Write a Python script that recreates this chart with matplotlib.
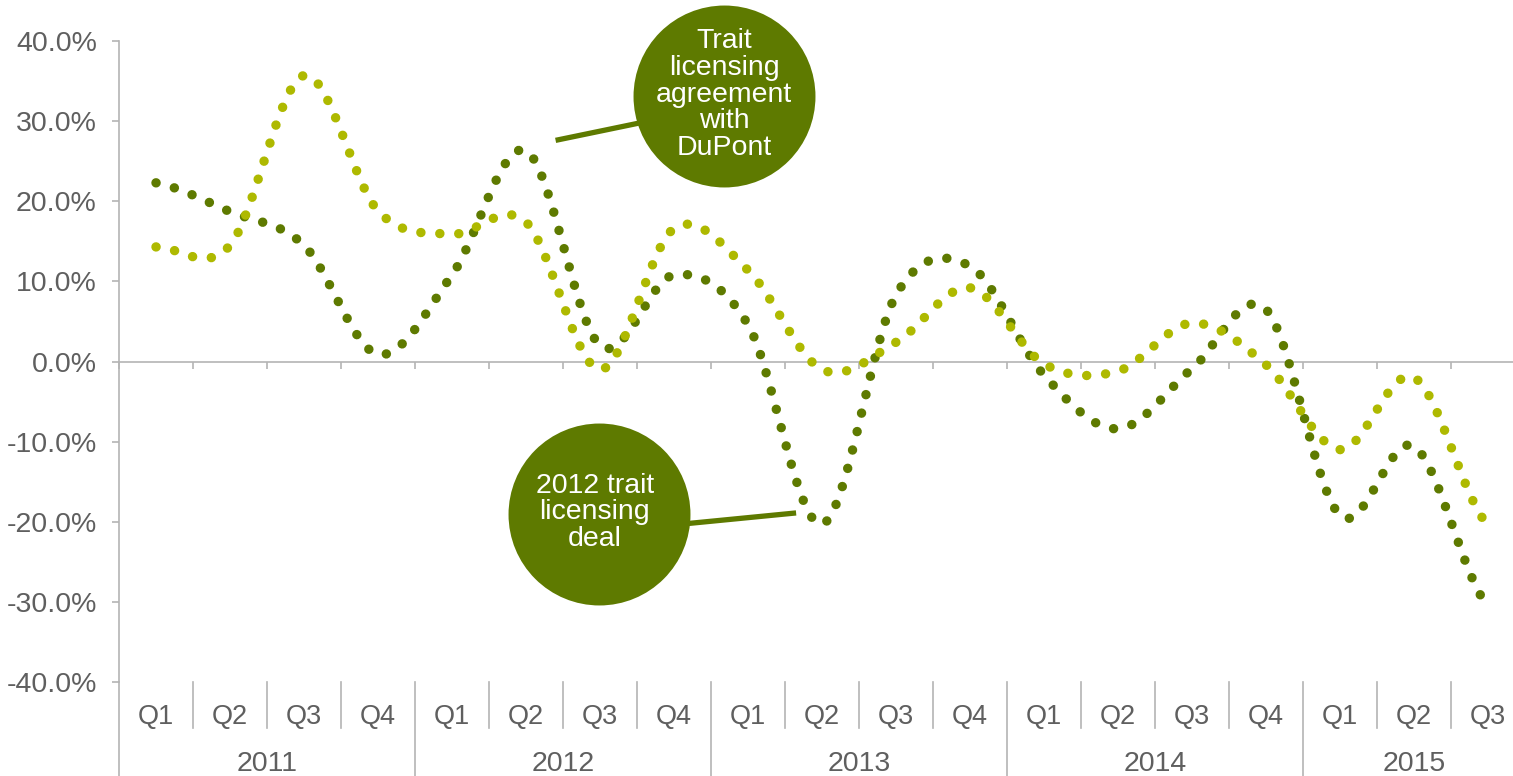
import numpy as np
import matplotlib
matplotlib.use('Agg')
import matplotlib.pyplot as plt
from matplotlib.transforms import blended_transform_factory

plt.rcParams['font.family'] = ['Liberation Sans', 'DejaVu Sans']

years = ['2011', '2012', '2013', '2014', '2015']
quarters = ['Q1', 'Q2', 'Q3', 'Q4'] * 4 + ['Q1', 'Q2', 'Q3']
dark = [22.3, 18.7, 14.5, 0.9, 10.8, 26.3, 2.0, 10.8, 4.6, -20.3,
        8.3, 11.9, -1.7, -8.4, -0.9, 6.5, -19.2, -10.6, -30.5]
light = [14.3, 14.5, 35.7, 18.8, 15.9, 17.4, -1.0, 16.6, 11.4, -1.0,
         2.4, 9.2, -0.3, -1.2, 4.8, -0.4, -11.0, -2.0, -20.4]
yticks = [-40, -30, -20, -10, 0, 10, 20, 30, 40]

c_dark = '#5e7a00'
c_light = '#aeb900'
c_text = '#5f5f5f'
c_axis = '#b4b4b4'


def smooth(y, n=40):
    # smoothed line like excel (catmull-rom)
    y = np.asarray(y, float)
    p = np.concatenate([[y[0]], y, [y[-1]]])
    t = np.linspace(0, 1, n, endpoint=False)
    h00 = 2 * t**3 - 3 * t**2 + 1
    h10 = t**3 - 2 * t**2 + t
    h01 = -2 * t**3 + 3 * t**2
    h11 = t**3 - t**2
    xs, ys = [], []
    for i in range(len(y) - 1):
        m1 = (p[i + 2] - p[i]) / 2
        m2 = (p[i + 3] - p[i + 1]) / 2
        xs.append(i + t)
        ys.append(h00 * p[i + 1] + h10 * m1 + h01 * p[i + 2] + h11 * m2)
    xs.append([len(y) - 1])
    ys.append([y[-1]])
    return np.concatenate(xs), np.concatenate(ys)


fig = plt.figure(figsize=(15.13, 7.76), dpi=100)
ax = fig.add_axes([119 / 1513, 94 / 776, 1406 / 1513, 641 / 776])

for vals, col in [(dark, c_dark), (light, c_light)]:
    sx, sy = smooth(vals)
    ax.plot(sx, sy, color=col, lw=6.8, linestyle=(0, (0.01, 2.0)),
            dash_capstyle='round', zorder=3)

ax.set_xlim(-0.5, 18.5)
ax.set_ylim(-40, 40)

for s in ['top', 'right']:
    ax.spines[s].set_visible(False)
ax.spines['bottom'].set_position(('data', 0))
ax.spines['bottom'].set_color(c_axis)
ax.spines['left'].set_color(c_axis)
ax.spines['bottom'].set_linewidth(1.2)
ax.spines['left'].set_linewidth(1.2)

ax.set_yticks(yticks)
ax.set_yticklabels([f'{v:.1f}%' for v in yticks])
ax.tick_params(axis='y', colors=c_axis, labelcolor=c_text, labelsize=20.5,
               length=5, width=1.2, pad=11)
ax.set_xticks(np.arange(-0.5, 19, 1))
ax.tick_params(axis='x', colors=c_axis, length=5, width=1.2, labelbottom=False)

# category axis at the bottom
tr = blended_transform_factory(ax.transData, ax.transAxes)
for i, q in enumerate(quarters):
    ax.text(i, -0.054, q, transform=tr, ha='center', va='center',
            fontsize=19.5, color=c_text)
    if i > 0:
        top = -0.155 if i % 4 == 0 else -0.072
        ax.plot([i - 0.5, i - 0.5], [0, top], transform=tr, color=c_axis,
                lw=1.2, clip_on=False)
ax.plot([-0.5, -0.5], [0, -0.155], transform=tr, color=c_axis, lw=1.2,
        clip_on=False)
for k, yr in enumerate(years):
    first = 4 * k
    last = min(4 * k + 3, len(quarters) - 1)
    ax.text((first + last) / 2, -0.128, yr, transform=tr, ha='center',
            va='center', fontsize=20.5, color=c_text)

# callouts
ax.plot([5.40, 6.55], [27.6, 29.8], color=c_dark, lw=3.8,
        solid_capstyle='butt', zorder=4)
ax.scatter([7.68], [33.1], s=131**2, color=c_dark, zorder=5, linewidths=0,
           clip_on=False)
ax.text(7.68, 33.3, 'Trait\nlicensing\nagreement\nwith\nDuPont',
        ha='center', va='center', fontsize=20.5, color='white',
        linespacing=1.03, zorder=6, clip_on=False)

ax.plot([7.1, 8.65], [-20.3, -18.9], color=c_dark, lw=3.8,
        solid_capstyle='butt', zorder=4)
ax.scatter([5.99], [-19.0], s=131**2, color=c_dark, zorder=5, linewidths=0,
           clip_on=False)
ax.text(5.93, -18.8, '2012 trait\nlicensing\ndeal',
        ha='center', va='center', fontsize=20.5, color='white',
        linespacing=1.03, zorder=6)

fig.savefig('out.png', dpi=100)
